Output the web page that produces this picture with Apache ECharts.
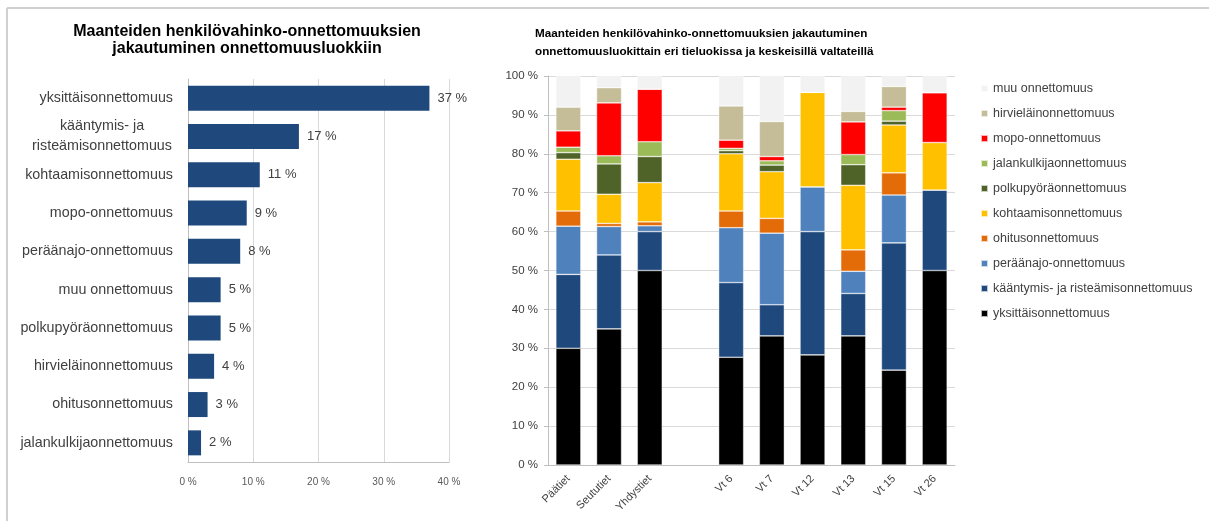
<!DOCTYPE html>
<html>
<head>
<meta charset="utf-8">
<style>
  html, body { margin: 0; padding: 0; background: #ffffff; }
  #chart { width: 1209px; height: 521px; }
</style>
<script src="https://cdn.jsdelivr.net/npm/echarts@6/dist/echarts.min.js"></script>
</head>
<body>
<div id="chart"></div>
<script>
// Overall distribution of injury accidents by accident class
const overallCategories = [
  'yksittäisonnettomuus',
  'kääntymis- ja\nristeämisonnettomuus',
  'kohtaamisonnettomuus',
  'mopo-onnettomuus',
  'peräänajo-onnettomuus',
  'muu onnettomuus',
  'polkupyöräonnettomuus',
  'hirvieläinonnettomuus',
  'ohitusonnettomuus',
  'jalankulkijaonnettomuus'
];
const overallShares = [37, 17, 11, 9, 8, 5, 5, 4, 3, 2];
const overallTicks = [0, 10, 20, 30, 40];

// Road classes and main highways (empty slot separates the two groups)
const roadClasses = ['Päätiet', 'Seututiet', 'Yhdystiet', '', 'Vt 6', 'Vt 7', 'Vt 12', 'Vt 13', 'Vt 15', 'Vt 26'];

// Share (%) of each accident class per road class
const yksittais    = [30.0, 35.0, 50.0, null, 27.7, 33.2, 28.3, 33.2, 24.4, 50.0];
const kaantymis    = [19.0, 19.0, 10.0, null, 19.2,  8.0, 31.7, 10.9, 32.7, 20.7];
const peraanajo    = [12.4,  7.3,  1.5, null, 14.1, 18.4, 11.5,  5.7, 12.3,  0];
const ohitus       = [ 3.9,  0.8,  1.0, null,  4.3,  3.8,  0,    5.5,  5.7,  0];
const kohtaamis    = [13.3,  7.5, 10.1, null, 14.7, 12.0, 24.3, 16.6, 12.3, 12.2];
const polkupyora   = [ 1.7,  7.8,  6.7, null,  0.8,  1.7,  0,    5.3,  1.0,  0];
const jalankulkija = [ 1.4,  2.1,  3.8, null,  0.6,  1.1,  0,    2.6,  2.7,  0];
const mopo         = [ 4.2, 13.6, 13.5, null,  2.1,  1.1,  0,    8.4,  0.9, 12.8];
const hirvielain   = [ 6.1,  3.9,  0,   null,  8.8,  9.0,  0,    2.7,  5.3,  0];
const muu          = [ 8.0,  3.0,  3.4, null,  7.7, 11.7,  4.2,  9.1,  2.7,  4.3];

// Stack order from bottom to top
const stackSeries = [
  { name: 'yksittäisonnettomuus', data: yksittais, color: '#000000' },
  { name: 'kääntymis- ja risteämisonnettomuus', data: kaantymis, color: '#1f497d' },
  { name: 'peräänajo-onnettomuus', data: peraanajo, color: '#4f81bd' },
  { name: 'ohitusonnettomuus', data: ohitus, color: '#e36c09' },
  { name: 'kohtaamisonnettomuus', data: kohtaamis, color: '#ffc000' },
  { name: 'polkupyöräonnettomuus', data: polkupyora, color: '#4f6228' },
  { name: 'jalankulkijaonnettomuus', data: jalankulkija, color: '#9bbb59' },
  { name: 'mopo-onnettomuus', data: mopo, color: '#ff0000' },
  { name: 'hirvieläinonnettomuus', data: hirvielain, color: '#c4bd97' },
  { name: 'muu onnettomuus', data: muu, color: '#f2f2f2' }
];

const FONT = '"Liberation Sans", Arial, sans-serif';
const TEXT = '#404040';
const GRID_LINE = '#d9d9d9';
const AXIS_LINE = '#bfbfbf';

const chart = echarts.init(document.getElementById('chart'), null, { renderer: 'canvas' });

// Wrapped category names are centred line by line, like a wrapped cell
function categoryLabel(value) {
  if (value.indexOf('\n') < 0) return value;
  return value.split('\n').map(line => '{c|' + line + '}').join('\n');
}

const option = {
  backgroundColor: '#ffffff',
  animation: false,
  textStyle: { fontFamily: FONT },
  title: [
    {
      text: 'Maanteiden henkilövahinko-onnettomuuksien\njakautuminen onnettomuusluokkiin',
      left: 242, top: 18, textAlign: 'center',
      textStyle: { fontFamily: FONT, fontSize: 16, fontWeight: 'bold', color: '#000000', lineHeight: 17 }
    },
    {
      text: 'Maanteiden henkilövahinko-onnettomuuksien jakautuminen\nonnettomuusluokittain eri tieluokissa ja keskeisillä valtateillä',
      left: 530, top: 20,
      textStyle: { fontFamily: FONT, fontSize: 11.7, fontWeight: 'bold', color: '#000000', lineHeight: 18 }
    }
  ],
  legend: {
    data: stackSeries.map(s => s.name).reverse(),
    orient: 'vertical',
    left: 975, top: 77,
    itemWidth: 7, itemHeight: 7, itemGap: 12,
    icon: 'rect',
    textStyle: { fontFamily: FONT, fontSize: 12.5, color: TEXT, lineHeight: 12 }
  },
  grid: [
    { left: 188, top: 79, width: 261, height: 383 },
    { left: 548, top: 76, width: 407, height: 389 }
  ],
  xAxis: [
    {
      gridIndex: 0, type: 'value',
      min: overallTicks[0], max: overallTicks[overallTicks.length - 1], interval: 10,
      axisLine: { show: true, lineStyle: { color: AXIS_LINE } },
      axisTick: { show: false },
      splitLine: { show: true, lineStyle: { color: GRID_LINE } },
      axisLabel: { formatter: '{value} %', fontSize: 10, color: '#595959', margin: 15, fontFamily: FONT }
    },
    {
      gridIndex: 1, type: 'category', data: roadClasses,
      axisLine: { show: true, lineStyle: { color: AXIS_LINE } },
      axisTick: { show: false },
      axisLabel: { rotate: 45, interval: 0, fontSize: 11, color: TEXT, margin: 12, fontFamily: FONT }
    }
  ],
  yAxis: [
    {
      gridIndex: 0, type: 'category', data: overallCategories, inverse: true,
      axisLine: { show: true, lineStyle: { color: AXIS_LINE } },
      axisTick: { show: false },
      axisLabel: {
        fontSize: 14.3, color: TEXT, margin: 15, lineHeight: 20, fontFamily: FONT,
        formatter: categoryLabel,
        rich: { c: { width: 142, align: 'center', fontSize: 14.3, color: TEXT, lineHeight: 20, fontFamily: FONT } }
      }
    },
    {
      gridIndex: 1, type: 'value', min: 0, max: 100, interval: 10,
      axisLine: { show: true, lineStyle: { color: AXIS_LINE } },
      axisTick: { show: true, length: 4, lineStyle: { color: AXIS_LINE } },
      splitLine: { show: true, lineStyle: { color: GRID_LINE } },
      axisLabel: { formatter: '{value} %', fontSize: 11.5, color: TEXT, margin: 10, fontFamily: FONT }
    }
  ],
  series: [
    {
      type: 'bar', xAxisIndex: 0, yAxisIndex: 0,
      data: overallShares, barWidth: 25,
      itemStyle: { color: '#1f497d' },
      label: {
        show: true, position: 'right', distance: 8,
        formatter: '{c} %', fontSize: 13, color: TEXT, fontFamily: FONT
      }
    }
  ].concat(stackSeries.map(s => ({
    type: 'bar', name: s.name, xAxisIndex: 1, yAxisIndex: 1,
    stack: 'share', data: s.data, barWidth: 25,
    itemStyle: { color: s.color, borderColor: 'rgba(255,255,255,0.7)', borderWidth: 0.6 }
  }))),
  graphic: [
    { type: 'line', shape: { x1: 7, y1: 8, x2: 1209, y2: 8 }, style: { stroke: '#d0d0d0', lineWidth: 2 } },
    { type: 'line', shape: { x1: 7, y1: 8, x2: 7, y2: 521 }, style: { stroke: '#d0d0d0', lineWidth: 2 } }
  ]
};

chart.setOption(option);
</script>
</body>
</html>
